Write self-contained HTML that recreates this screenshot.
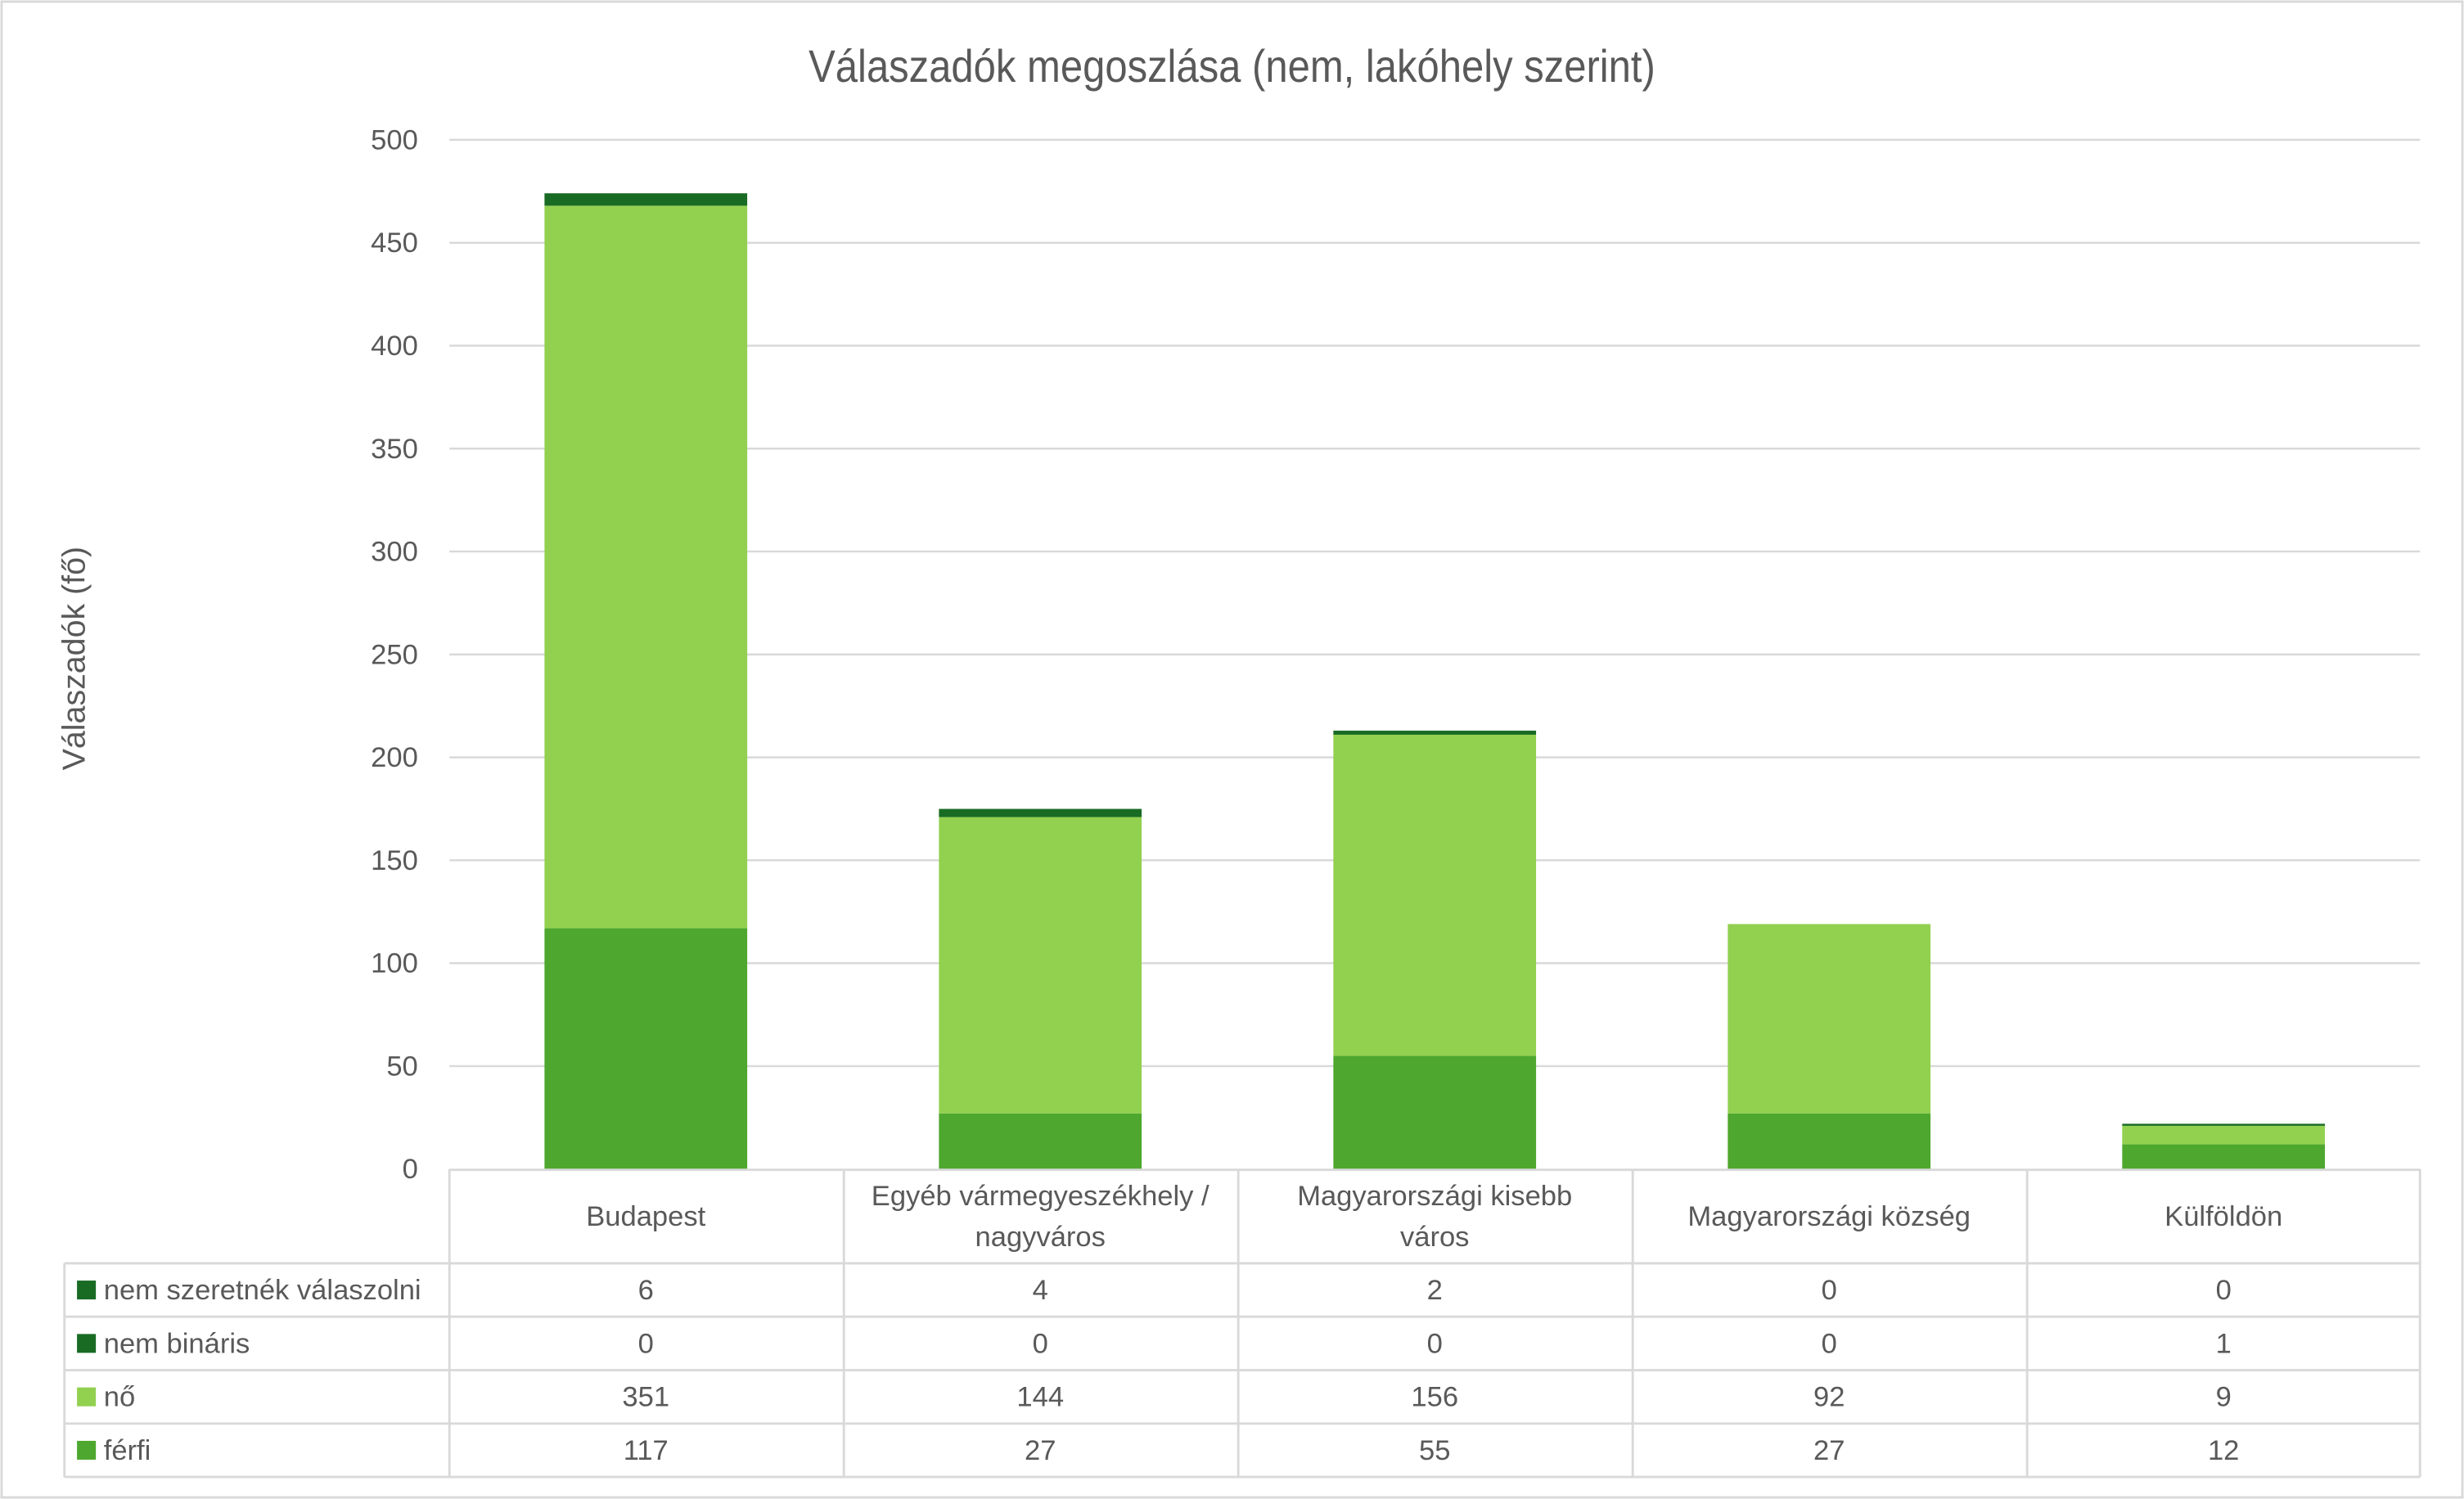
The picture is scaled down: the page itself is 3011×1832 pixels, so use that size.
<!DOCTYPE html>
<html><head><meta charset="utf-8"><style>
html,body{margin:0;padding:0;background:#fff;}
svg{display:block;}
text{font-family:"Liberation Sans",sans-serif;fill:#595959;}
</style></head><body>
<svg width="3011" height="1832" viewBox="0 0 1568 954" xmlns="http://www.w3.org/2000/svg">
<rect x="1" y="1" width="1566" height="952" fill="#fff" stroke="#D9D9D9" stroke-width="1.5"/>
<text x="784" y="52" font-size="29" text-anchor="middle" transform="translate(784 0) scale(0.88 1) translate(-784 0)">Válaszadók megoszlása (nem, lakóhely szerint)</text>
<text x="54" y="419" font-size="20.5" text-anchor="middle" transform="rotate(-90 54 419)">Válaszadók (fő)</text>
<g stroke="#D9D9D9" stroke-width="1.3">
<line x1="286" y1="89" x2="1540" y2="89"/>
<line x1="286" y1="154.5" x2="1540" y2="154.5"/>
<line x1="286" y1="220" x2="1540" y2="220"/>
<line x1="286" y1="285.5" x2="1540" y2="285.5"/>
<line x1="286" y1="351" x2="1540" y2="351"/>
<line x1="286" y1="416.5" x2="1540" y2="416.5"/>
<line x1="286" y1="482" x2="1540" y2="482"/>
<line x1="286" y1="547.5" x2="1540" y2="547.5"/>
<line x1="286" y1="613" x2="1540" y2="613"/>
<line x1="286" y1="678.5" x2="1540" y2="678.5"/>
</g>
<g font-size="18" text-anchor="end">
<text x="266" y="95">500</text><text x="266" y="160.5">450</text><text x="266" y="226">400</text>
<text x="266" y="291.5">350</text><text x="266" y="357">300</text><text x="266" y="422.5">250</text>
<text x="266" y="488">200</text><text x="266" y="553.5">150</text><text x="266" y="619">100</text>
<text x="266" y="684.5">50</text><text x="266" y="750">0</text>
</g>
<g>
<rect x="346.5" y="590.7" width="129" height="153.3" fill="#4EA72E"/>
<rect x="346.5" y="130.9" width="129" height="459.8" fill="#92D050"/>
<rect x="346.5" y="123" width="129" height="7.9" fill="#196B24"/>
<rect x="597.5" y="708.6" width="129" height="35.4" fill="#4EA72E"/>
<rect x="597.5" y="520" width="129" height="188.6" fill="#92D050"/>
<rect x="597.5" y="514.8" width="129" height="5.2" fill="#196B24"/>
<rect x="848.5" y="672" width="129" height="72" fill="#4EA72E"/>
<rect x="848.5" y="467.6" width="129" height="204.4" fill="#92D050"/>
<rect x="848.5" y="465" width="129" height="2.6" fill="#196B24"/>
<rect x="1099.5" y="708.6" width="129" height="35.4" fill="#4EA72E"/>
<rect x="1099.5" y="588.1" width="129" height="120.5" fill="#92D050"/>
<rect x="1350.5" y="728.3" width="129" height="15.7" fill="#4EA72E"/>
<rect x="1350.5" y="716.5" width="129" height="11.8" fill="#92D050"/>
<rect x="1350.5" y="715.2" width="129" height="1.3" fill="#196B24"/>
</g>
<g stroke="#D9D9D9" stroke-width="1.5" fill="none">
<line x1="286" y1="744.5" x2="1540" y2="744.5"/>
<line x1="41" y1="804" x2="1540" y2="804"/>
<line x1="41" y1="838" x2="1540" y2="838"/>
<line x1="41" y1="872" x2="1540" y2="872"/>
<line x1="41" y1="906" x2="1540" y2="906"/>
<line x1="41" y1="940" x2="1540" y2="940"/>
<line x1="41" y1="804" x2="41" y2="940"/>
<line x1="286" y1="744" x2="286" y2="940"/>
<line x1="537" y1="744" x2="537" y2="940"/>
<line x1="788" y1="744" x2="788" y2="940"/>
<line x1="1039" y1="744" x2="1039" y2="940"/>
<line x1="1290" y1="744" x2="1290" y2="940"/>
<line x1="1540" y1="744" x2="1540" y2="940"/>
</g>
<g font-size="18" text-anchor="middle">
<text x="411" y="780">Budapest</text>
<text x="662" y="767">Egyéb vármegyeszékhely /</text>
<text x="662" y="793">nagyváros</text>
<text x="913" y="767">Magyarországi kisebb</text>
<text x="913" y="793">város</text>
<text x="1164" y="780">Magyarországi község</text>
<text x="1415" y="780">Külföldön</text>
<text x="411" y="827">6</text><text x="662" y="827">4</text><text x="913" y="827">2</text><text x="1164" y="827">0</text><text x="1415" y="827">0</text>
<text x="411" y="861">0</text><text x="662" y="861">0</text><text x="913" y="861">0</text><text x="1164" y="861">0</text><text x="1415" y="861">1</text>
<text x="411" y="895">351</text><text x="662" y="895">144</text><text x="913" y="895">156</text><text x="1164" y="895">92</text><text x="1415" y="895">9</text>
<text x="411" y="929">117</text><text x="662" y="929">27</text><text x="913" y="929">55</text><text x="1164" y="929">27</text><text x="1415" y="929">12</text>
</g>
<rect x="49" y="815" width="12" height="12" fill="#196B24"/>
<rect x="49" y="849" width="12" height="12" fill="#196B24"/>
<rect x="49" y="883" width="12" height="12" fill="#92D050"/>
<rect x="49" y="917" width="12" height="12" fill="#4EA72E"/>
<g font-size="18">
<text x="66" y="827">nem szeretnék válaszolni</text>
<text x="66" y="861">nem bináris</text>
<text x="66" y="895">nő</text>
<text x="66" y="929">férfi</text>
</g>
</svg>
</body></html>
